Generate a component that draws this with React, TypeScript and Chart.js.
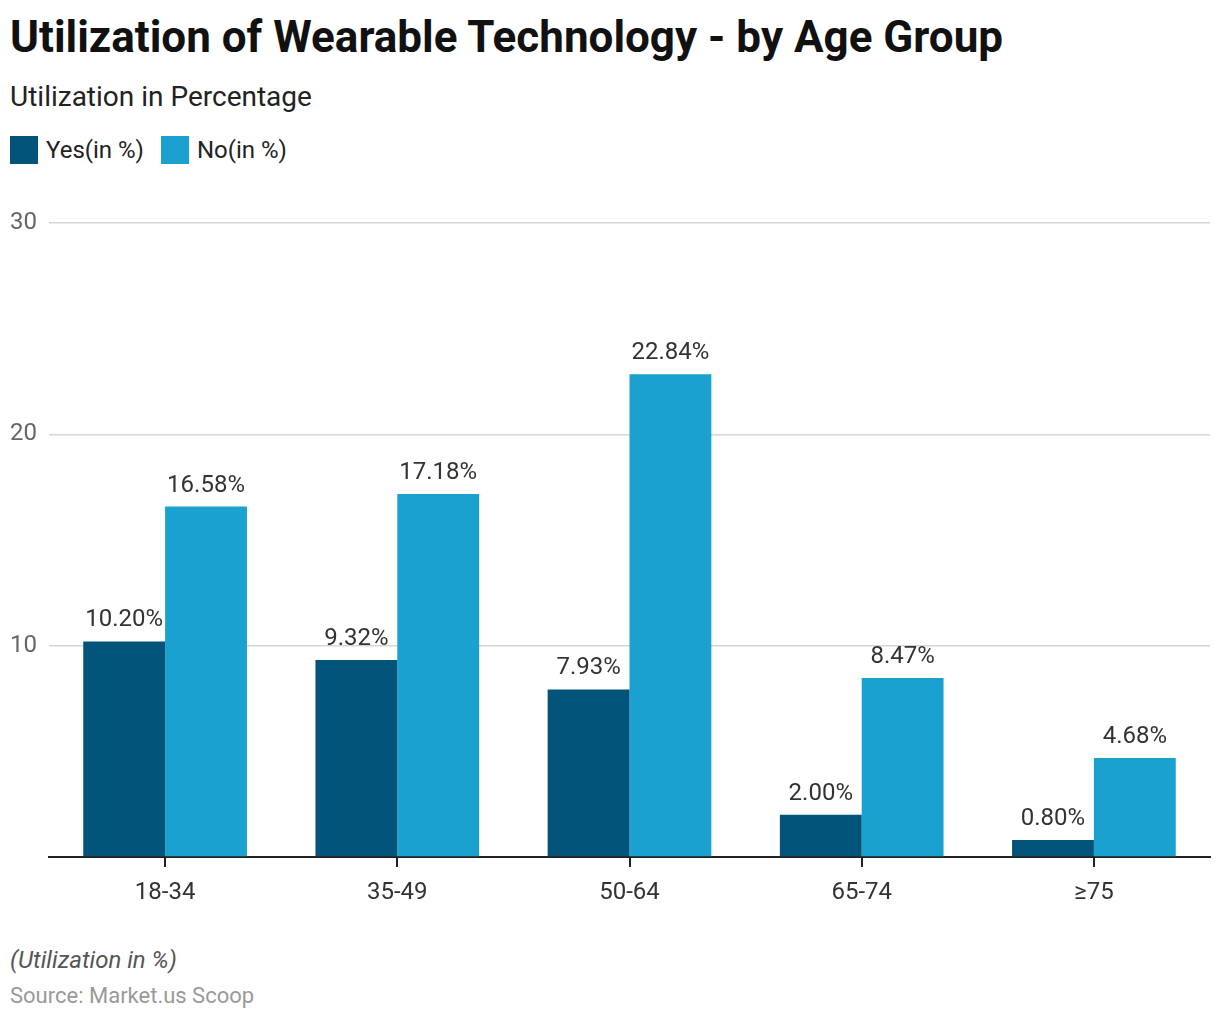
import React, { useEffect, useRef } from "react";
import { Chart, registerables } from "chart.js";

Chart.register(...registerables);

const categories = ["18-34", "35-49", "50-64", "65-74", "≥75"];
const yesValues = [10.2, 9.32, 7.93, 2.0, 0.8];
const noValues = [16.58, 17.18, 22.84, 8.47, 4.68];
const seriesNames = ["Yes(in %)", "No(in %)"];
const seriesColors = ["#02547b", "#1ba1cf"];
const yTicks = [0, 10, 20, 30];

const FONT = "Roboto, 'Noto Sans', sans-serif";

const dataLabelPlugin = {
  id: "dataLabels",
  afterDatasetsDraw(chart: any) {
    const ctx = chart.ctx;
    ctx.save();
    ctx.font = `24px ${FONT}`;
    ctx.fillStyle = "#333333";
    ctx.textAlign = "center";
    ctx.textBaseline = "alphabetic";
    chart.data.datasets.forEach((ds: any, i: number) => {
      const meta = chart.getDatasetMeta(i);
      meta.data.forEach((bar: any, j: number) => {
        const v = ds.data[j] as number;
        ctx.fillText(v.toFixed(2) + "%", bar.x, bar.y - 15);
      });
    });
    ctx.restore();
  },
};

export default function App() {
  const ref = useRef<HTMLCanvasElement | null>(null);

  useEffect(() => {
    if (!ref.current) return;
    const chart = new Chart(ref.current, {
      type: "bar",
      data: {
        labels: categories,
        datasets: [
          {
            label: seriesNames[0],
            data: yesValues,
            backgroundColor: seriesColors[0],
            categoryPercentage: 0.705,
            barPercentage: 1.0,
          },
          {
            label: seriesNames[1],
            data: noValues,
            backgroundColor: seriesColors[1],
            categoryPercentage: 0.705,
            barPercentage: 1.0,
          },
        ],
      },
      options: {
        animation: false,
        responsive: false,
        maintainAspectRatio: false,
        layout: { padding: { top: 23, left: 10, right: 10, bottom: 0 } },
        plugins: {
          legend: { display: false },
          title: { display: false },
          tooltip: { enabled: false },
        },
        scales: {
          x: {
            grid: {
              display: true,
              drawOnChartArea: false,
              drawTicks: true,
              offset: false,
              tickLength: 10,
              color: "#222222",
              lineWidth: 2,
            },
            border: { display: true, color: "#222222", width: 2 },
            ticks: {
              font: { family: FONT, size: 24 },
              color: "#333333",
              padding: 12,
            },
            afterFit(scale: any) {
              scale.height = 63;
            },
          },
          y: {
            min: 0,
            max: 30,
            afterBuildTicks(scale: any) {
              scale.ticks = yTicks.map((v) => ({ value: v }));
            },
            grid: {
              color: "#d6d6d6",
              lineWidth: 1.5,
              drawTicks: false,
            },
            border: { display: false },
            ticks: {
              font: { family: FONT, size: 24 },
              color: "#666666",
              crossAlign: "far",
              padding: 0,
              callback: (v: any) => (v === 0 ? "" : String(v)),
            },
            afterFit(scale: any) {
              scale.width = 39;
            },
          },
        },
      },
      plugins: [dataLabelPlugin],
    } as any);
    return () => chart.destroy();
  }, []);

  return (
    <div
      style={{
        position: "absolute",
        left: 0,
        top: 0,
        width: 1220,
        height: 1020,
        background: "#ffffff",
        fontFamily: FONT,
        overflow: "hidden",
      }}
    >
      <div
        style={{
          position: "absolute",
          left: 10,
          top: 11,
          fontSize: 44,
          lineHeight: "52px",
          fontWeight: 700,
          color: "#111111",
          whiteSpace: "nowrap",
        }}
      >
        Utilization of Wearable Technology - by Age Group
      </div>
      <div
        style={{
          position: "absolute",
          left: 10,
          top: 80,
          fontSize: 28,
          lineHeight: "34px",
          color: "#222222",
          whiteSpace: "nowrap",
        }}
      >
        Utilization in Percentage
      </div>
      <div
        style={{
          position: "absolute",
          left: 10,
          top: 136,
          height: 28,
          display: "flex",
          alignItems: "center",
          fontSize: 24,
          color: "#222222",
          whiteSpace: "nowrap",
        }}
      >
        {seriesNames.map((n, i) => (
          <div key={n} style={{ display: "flex", alignItems: "center", marginRight: 17 }}>
            <div style={{ width: 28, height: 28, background: seriesColors[i], marginRight: 8 }} />
            <span>{n}</span>
          </div>
        ))}
      </div>
      <canvas
        ref={ref}
        width={1220}
        height={720}
        style={{ position: "absolute", left: 0, top: 200, width: 1220, height: 720 }}
      />
      <div
        style={{
          position: "absolute",
          left: 10,
          top: 945,
          fontSize: 24,
          lineHeight: "30px",
          fontStyle: "italic",
          color: "#555555",
          whiteSpace: "nowrap",
        }}
      >
        (Utilization in %)
      </div>
      <div
        style={{
          position: "absolute",
          left: 10,
          top: 982,
          fontSize: 22,
          lineHeight: "28px",
          color: "#999999",
          whiteSpace: "nowrap",
        }}
      >
        Source: Market.us Scoop
      </div>
    </div>
  );
}
